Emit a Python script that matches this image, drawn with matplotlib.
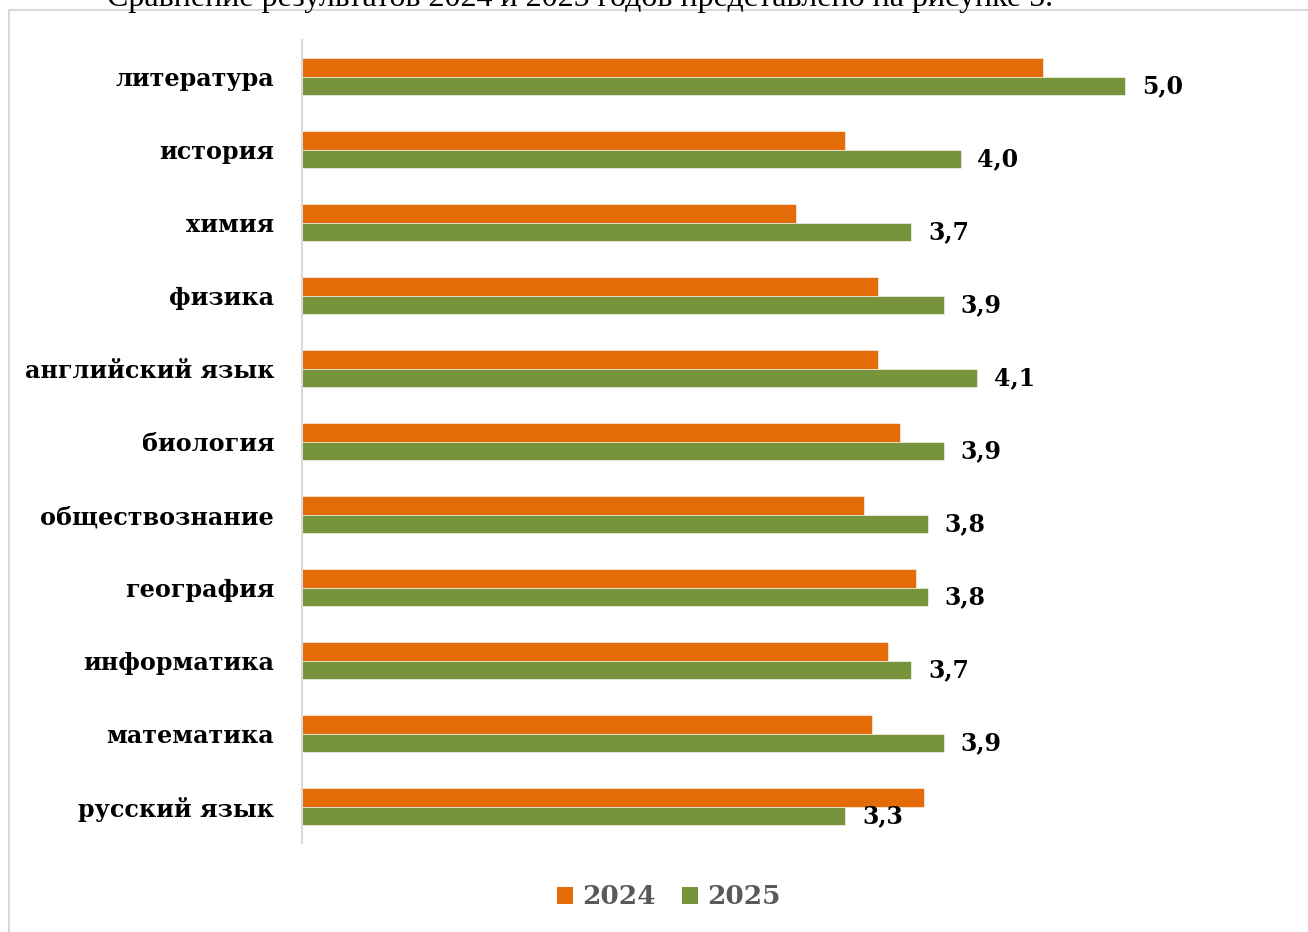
import numpy as np
import matplotlib
matplotlib.use("Agg")
import matplotlib.pyplot as plt
from matplotlib.patches import Patch
from matplotlib.lines import Line2D

# ---------------------------------------------------------------- data ----#
subjects = ["литература", "история", "химия", "физика", "английский язык",
            "биология", "обществознание", "география", "информатика",
            "математика", "русский язык"]
scores_2024 = [4.50, 3.30, 3.00, 3.50, 3.50, 3.63, 3.41, 3.73, 3.56, 3.46, 3.78]
scores_2025 = [5.0, 4.0, 3.7, 3.9, 4.1, 3.9, 3.8, 3.8, 3.7, 3.9, 3.3]
labels_2025 = ["5,0", "4,0", "3,7", "3,9", "4,1", "3,9", "3,8", "3,8", "3,7", "3,9", "3,3"]
series_names = ["2024", "2025"]

ORANGE = "#E36C09"
GREEN = "#77933C"
FRAME = "#D9D9D9"
SERIF = "DejaVu Serif"

# ---------------------------------------------------------------- figure --#
fig = plt.figure(figsize=(13.08, 9.32), dpi=100)
W, H = 1308, 932

# chart frame: only the top and left edges are inside the crop
fig.add_artist(Line2D([9 / W, 1.05], [1 - 10 / H, 1 - 10 / H],
                      transform=fig.transFigure, color=FRAME, linewidth=1.5))
fig.add_artist(Line2D([9 / W, 9 / W], [-0.05, 1 - 10 / H],
                      transform=fig.transFigure, color=FRAME, linewidth=1.5))

# clipped line of document text above the chart
fig.text(107 / W, 1 - 6 / H,
         "Сравнение результатов 2024 и 2025 годов представлено на рисунке 5.",
         family="Liberation Serif", fontsize=23, va="baseline", ha="left",
         color="black")

ax = fig.add_axes([302 / W, 1 - 843 / H, 988 / W, 803 / H])

n = len(subjects)
y = np.arange(n)[::-1]
bh = 0.26
ax.barh(y + bh / 2, scores_2024, height=bh, color=ORANGE,
        edgecolor="white", linewidth=0.4)
ax.barh(y - bh / 2, scores_2025, height=bh, color=GREEN,
        edgecolor="white", linewidth=0.4)

for yy, v, lab in zip(y, scores_2025, labels_2025):
    ax.annotate(lab, (v, yy - bh / 2), xytext=(12, 0),
                textcoords="offset points", ha="left", va="center",
                family=SERIF, fontweight="bold", fontsize=17, color="black")

ax.set_xlim(0, 6)
ax.set_ylim(-0.5, n - 0.5)
ax.set_yticks(y)
ax.set_yticklabels(subjects, family=SERIF, fontweight="bold", fontsize=17.2)
ax.tick_params(axis="y", length=0, pad=20)
ax.set_xticks([])
for s in ["top", "right", "bottom"]:
    ax.spines[s].set_visible(False)
ax.spines["left"].set_color(FRAME)
ax.spines["left"].set_linewidth(1.5)

handles = [Patch(facecolor=ORANGE), Patch(facecolor=GREEN)]
leg = fig.legend(handles, series_names, loc="center",
                 bbox_to_anchor=(669 / W, 1 - 897 / H), ncol=2,
                 frameon=False, handlelength=0.6, handleheight=0.6,
                 handletextpad=0.35, columnspacing=1.0,
                 prop={"family": SERIF, "weight": "bold", "size": 19})
for t in leg.get_texts():
    t.set_color("#595959")

fig.savefig("out.png", dpi=100, facecolor="white")
